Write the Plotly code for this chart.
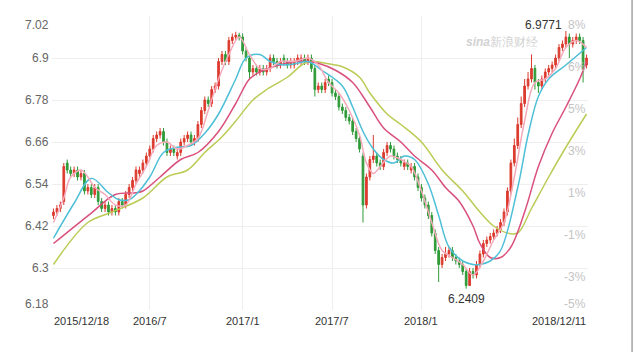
import pandas as pd
import plotly.graph_objects as go

# ---------------- data (weekly candles) ----------------
opens = [6.45, 6.46, 6.47, 6.49, 6.60, 6.58, 6.57, 6.58, 6.56, 6.57,
         6.52, 6.53, 6.51, 6.53, 6.49, 6.47, 6.48, 6.46, 6.47, 6.46,
         6.49, 6.48, 6.51, 6.53, 6.55, 6.57, 6.58, 6.60, 6.62, 6.64,
         6.67, 6.68, 6.69, 6.66, 6.63, 6.64, 6.62, 6.63, 6.66, 6.67,
         6.68, 6.66, 6.67, 6.71, 6.75, 6.78, 6.77, 6.81, 6.82, 6.89,
         6.91, 6.89, 6.95, 6.96, 6.965, 6.96, 6.92, 6.90, 6.86, 6.87,
         6.86, 6.87, 6.86, 6.87, 6.90, 6.89, 6.88, 6.90, 6.89, 6.88,
         6.88, 6.89, 6.89, 6.90, 6.89, 6.90, 6.87, 6.81, 6.82, 6.81,
         6.84, 6.83, 6.80, 6.79, 6.76, 6.75, 6.73, 6.72, 6.69, 6.67,
         6.62, 6.48, 6.56, 6.61, 6.62, 6.60, 6.59, 6.63, 6.65, 6.64,
         6.62, 6.61, 6.59, 6.60, 6.58, 6.59, 6.56, 6.53, 6.50, 6.48,
         6.45, 6.40, 6.35, 6.31, 6.33, 6.34, 6.35, 6.33, 6.32, 6.31,
         6.29, 6.25, 6.29, 6.28, 6.31, 6.34, 6.37, 6.38, 6.39, 6.40,
         6.41, 6.43, 6.46, 6.52, 6.60, 6.65, 6.71, 6.77, 6.82, 6.84,
         6.87, 6.83, 6.82, 6.84, 6.86, 6.87, 6.88, 6.90, 6.93, 6.94,
         6.96, 6.94, 6.95, 6.96, 6.95, 6.88]
highs = [6.47, 6.48, 6.49, 6.60, 6.61, 6.59, 6.59, 6.59, 6.58, 6.58,
         6.54, 6.54, 6.54, 6.54, 6.50, 6.49, 6.49, 6.48, 6.48, 6.50,
         6.50, 6.52, 6.54, 6.56, 6.59, 6.59, 6.61, 6.63, 6.65, 6.68,
         6.69, 6.70, 6.70, 6.67, 6.65, 6.65, 6.64, 6.67, 6.68, 6.69,
         6.69, 6.68, 6.72, 6.76, 6.79, 6.79, 6.82, 6.83, 6.90, 6.92,
         6.92, 6.96, 6.97, 6.975, 6.972, 6.97, 6.93, 6.91, 6.88, 6.88,
         6.88, 6.88, 6.88, 6.91, 6.91, 6.90, 6.90, 6.91, 6.90, 6.90,
         6.90, 6.91, 6.91, 6.91, 6.91, 6.91, 6.88, 6.83, 6.83, 6.84,
         6.85, 6.84, 6.81, 6.80, 6.77, 6.76, 6.74, 6.73, 6.70, 6.68,
         6.63, 6.57, 6.62, 6.68, 6.63, 6.61, 6.64, 6.66, 6.66, 6.65,
         6.63, 6.62, 6.61, 6.61, 6.60, 6.60, 6.57, 6.54, 6.51, 6.49,
         6.46, 6.41, 6.36, 6.34, 6.36, 6.36, 6.36, 6.34, 6.33, 6.32,
         6.30, 6.30, 6.30, 6.32, 6.35, 6.38, 6.39, 6.40, 6.41, 6.42,
         6.44, 6.47, 6.53, 6.61, 6.67, 6.73, 6.79, 6.84, 6.86, 6.91,
         6.88, 6.84, 6.85, 6.87, 6.88, 6.89, 6.91, 6.94, 6.95, 6.9771,
         6.97, 6.96, 6.97, 6.97, 6.96, 6.91]
lows = [6.44, 6.45, 6.46, 6.48, 6.57, 6.56, 6.56, 6.55, 6.55, 6.51,
        6.51, 6.50, 6.50, 6.48, 6.46, 6.46, 6.45, 6.45, 6.45, 6.45,
        6.47, 6.47, 6.50, 6.52, 6.54, 6.56, 6.57, 6.59, 6.61, 6.63,
        6.66, 6.67, 6.65, 6.62, 6.62, 6.62, 6.61, 6.62, 6.65, 6.66,
        6.65, 6.65, 6.66, 6.70, 6.74, 6.76, 6.76, 6.80, 6.81, 6.88,
        6.88, 6.88, 6.94, 6.95, 6.95, 6.91, 6.89, 6.84, 6.85, 6.85,
        6.85, 6.85, 6.85, 6.86, 6.88, 6.87, 6.87, 6.88, 6.87, 6.87,
        6.87, 6.88, 6.88, 6.88, 6.88, 6.86, 6.79, 6.80, 6.80, 6.80,
        6.82, 6.79, 6.78, 6.75, 6.74, 6.72, 6.71, 6.68, 6.66, 6.63,
        6.43, 6.47, 6.55, 6.60, 6.59, 6.58, 6.58, 6.62, 6.63, 6.61,
        6.60, 6.59, 6.58, 6.58, 6.57, 6.55, 6.52, 6.49, 6.47, 6.44,
        6.39, 6.34, 6.26, 6.30, 6.32, 6.33, 6.32, 6.31, 6.30, 6.28,
        6.2409, 6.25, 6.27, 6.27, 6.30, 6.33, 6.36, 6.37, 6.38, 6.39,
        6.40, 6.42, 6.45, 6.51, 6.59, 6.64, 6.70, 6.76, 6.81, 6.83,
        6.81, 6.80, 6.81, 6.83, 6.85, 6.86, 6.87, 6.89, 6.92, 6.93,
        6.90, 6.93, 6.94, 6.94, 6.83, 6.87]
closes = [6.46, 6.47, 6.48, 6.59, 6.58, 6.57, 6.58, 6.56, 6.57, 6.52,
          6.53, 6.51, 6.53, 6.49, 6.47, 6.48, 6.46, 6.47, 6.46, 6.49,
          6.48, 6.51, 6.53, 6.55, 6.58, 6.58, 6.60, 6.62, 6.64, 6.67,
          6.68, 6.69, 6.66, 6.63, 6.64, 6.63, 6.63, 6.66, 6.67, 6.68,
          6.66, 6.67, 6.71, 6.75, 6.78, 6.77, 6.81, 6.82, 6.89, 6.91,
          6.89, 6.95, 6.96, 6.965, 6.96, 6.92, 6.90, 6.86, 6.87, 6.86,
          6.87, 6.86, 6.87, 6.90, 6.89, 6.88, 6.89, 6.89, 6.88, 6.89,
          6.89, 6.90, 6.90, 6.89, 6.90, 6.87, 6.81, 6.82, 6.81, 6.83,
          6.83, 6.80, 6.79, 6.76, 6.75, 6.73, 6.72, 6.69, 6.67, 6.64,
          6.48, 6.56, 6.61, 6.62, 6.60, 6.59, 6.63, 6.65, 6.64, 6.62,
          6.61, 6.60, 6.60, 6.59, 6.59, 6.56, 6.53, 6.50, 6.48, 6.45,
          6.40, 6.35, 6.31, 6.33, 6.34, 6.35, 6.33, 6.32, 6.31, 6.29,
          6.25, 6.29, 6.28, 6.31, 6.34, 6.37, 6.38, 6.39, 6.40, 6.41,
          6.43, 6.46, 6.52, 6.60, 6.65, 6.71, 6.77, 6.82, 6.84, 6.87,
          6.83, 6.82, 6.84, 6.86, 6.87, 6.88, 6.90, 6.93, 6.94, 6.96,
          6.94, 6.95, 6.96, 6.95, 6.87, 6.90]

# moving-average lines, read at selected weeks (week index, value)
ma5_idx = [0, 3, 5, 8, 10, 12, 15, 18, 21, 24, 27, 30, 33, 36, 39, 42, 45, 48, 51,
           54, 57, 60, 63, 66, 70, 74, 77, 80, 83, 86, 89, 91, 93, 95, 98, 101, 104,
           107, 110, 113, 116, 119, 122, 125, 128, 131, 134, 137, 140, 143, 146, 149,
           152, 155]
ma5_val = [6.43, 6.50, 6.56, 6.58, 6.56, 6.53, 6.51, 6.48, 6.48, 6.54, 6.59, 6.65,
           6.66, 6.64, 6.65, 6.67, 6.75, 6.84, 6.91, 6.96, 6.91, 6.87, 6.87, 6.89,
           6.89, 6.90, 6.88, 6.83, 6.80, 6.75, 6.68, 6.60, 6.57, 6.59, 6.62, 6.61,
           6.59, 6.52, 6.43, 6.35, 6.33, 6.31, 6.28, 6.32, 6.38, 6.43, 6.56, 6.72,
           6.83, 6.84, 6.87, 6.93, 6.95, 6.93]
ma10_idx = [0, 6, 11, 16, 19, 22, 24, 28, 32, 36, 40, 44, 48, 53, 56, 60, 63, 67,
            71, 74, 78, 84, 87, 90, 93, 96, 99, 102, 105, 109, 112, 115, 119, 122,
            124, 127, 130, 135, 138, 141, 144, 149, 155]
ma10_val = [6.385, 6.485, 6.556, 6.515, 6.495, 6.495, 6.51, 6.56, 6.63, 6.645,
            6.65, 6.685, 6.74, 6.84, 6.90, 6.91, 6.89, 6.88, 6.885, 6.89, 6.865,
            6.82, 6.76, 6.69, 6.64, 6.61, 6.60, 6.62, 6.61, 6.54, 6.45, 6.36, 6.32,
            6.31, 6.31, 6.32, 6.35, 6.53, 6.68, 6.79, 6.84, 6.88, 6.93]
ma20_idx = [0, 11, 18, 24, 26, 31, 37, 42, 48, 53, 57, 60, 64, 70, 74, 77, 82, 87,
            92, 96, 101, 105, 110, 114, 118, 122, 124, 127, 130, 133, 137, 141, 145,
            149, 153, 155]
ma20_val = [6.37, 6.457, 6.51, 6.515, 6.52, 6.56, 6.61, 6.63, 6.69, 6.77, 6.84,
            6.86, 6.875, 6.89, 6.89, 6.885, 6.865, 6.83, 6.76, 6.70, 6.66, 6.62,
            6.58, 6.53, 6.49, 6.42, 6.37, 6.33, 6.33, 6.36, 6.46, 6.59, 6.685, 6.76,
            6.84, 6.89]
ma60_idx = [0, 10, 17, 26, 33, 39, 44, 49, 53, 58, 62, 68, 73, 76, 79, 84, 89, 92,
            97, 101, 107, 113, 119, 124, 128, 132, 135, 139, 144, 149, 155]
ma60_val = [6.31, 6.43, 6.46, 6.50, 6.56, 6.58, 6.63, 6.675, 6.72, 6.78, 6.81,
            6.845, 6.885, 6.89, 6.885, 6.875, 6.845, 6.80, 6.74, 6.71, 6.66, 6.58,
            6.52, 6.46, 6.42, 6.40, 6.40, 6.47, 6.56, 6.645, 6.74]

y_ticks = [6.18, 6.30, 6.42, 6.54, 6.66, 6.78, 6.90, 7.02]
y_text = ["6.18", "6.3", "6.42", "6.54", "6.66", "6.78", "6.9", "7.02"]
pct_text = ["-5%", "-3%", "-1%", "1%", "3%", "5%", "6%", "8%"]
x_tick_dates = ["2015-12-18", "2016-07-01", "2017-01-06", "2017-07-07", "2018-01-05", "2018-12-07"]
x_tick_text = ["2015/12/18", "2016/7", "2017/1", "2017/7", "2018/1", "2018/12/11"]
max_label, min_label = "6.9771", "6.2409"

# ---------------- figure ----------------
dates = pd.date_range("2015-12-18", periods=len(closes), freq="7D")

RED, GREEN = "#dc3b2e", "#2f9b38"
fig = go.Figure()
fig.add_trace(go.Candlestick(
    x=dates, open=opens, high=highs, low=lows, close=closes,
    increasing=dict(line=dict(color=RED, width=1), fillcolor=RED),
    decreasing=dict(line=dict(color=GREEN, width=1), fillcolor=GREEN),
    whiskerwidth=0, showlegend=False, hoverinfo="skip"))

for idx, val, col in [(ma60_idx, ma60_val, "#bccb55"),
                      (ma20_idx, ma20_val, "#d9507c"),
                      (ma10_idx, ma10_val, "#4dbfd6"),
                      (ma5_idx, ma5_val, "#f5aabb")]:
    fig.add_trace(go.Scatter(x=dates[idx], y=val, mode="lines",
                             line=dict(color=col, width=1.5, shape="spline", smoothing=1.0),
                             showlegend=False, hoverinfo="skip"))

ann = []
# left y labels
for v, t in zip(y_ticks, y_text):
    shift = 0
    if v == y_ticks[-1]:
        shift = -9
    elif v == y_ticks[0]:
        shift = 6
    ann.append(dict(xref="paper", yref="y", x=0, y=v, text=t, showarrow=False,
                    xanchor="right", yanchor="middle", xshift=-1, yshift=shift,
                    font=dict(size=12, color="#666666")))
# right percent labels
for v, t in zip(y_ticks, pct_text):
    shift = 6 if v == y_ticks[0] else -9
    ann.append(dict(xref="paper", yref="y", x=1, y=v, text=t, showarrow=False,
                    xanchor="right", yanchor="middle", yshift=shift,
                    font=dict(size=12, color="#c4c4c4")))
# x labels
for i, (d, t) in enumerate(zip(x_tick_dates, x_tick_text)):
    if i == 0:
        a = dict(xref="paper", x=0, xanchor="left")
    elif i == len(x_tick_dates) - 1:
        a = dict(xref="paper", x=1, xanchor="right")
    else:
        a = dict(xref="x", x=d, xanchor="center")
    a.update(yref="paper", y=0, yanchor="top", yshift=-3, text=t, showarrow=False,
             font=dict(size=11, color="#333333"))
    ann.append(a)
# max / min labels
imax = highs.index(max(highs))
imin = lows.index(min(lows))
ann.append(dict(x=dates[imax], y=max(highs), text=max_label, showarrow=False,
                xanchor="right", yanchor="middle", xshift=-2, yshift=6,
                font=dict(size=12, color="#333333")))
ann.append(dict(x=dates[imin], y=min(lows), text=min_label, showarrow=False,
                xanchor="center", yanchor="top", yshift=-1,
                font=dict(size=12, color="#333333")))
# watermark
ann.append(dict(xref="paper", yref="paper", x=0.84, y=0.91, text="<b><i>sina</i></b>新浪财经",
                showarrow=False, xanchor="center", yanchor="middle",
                font=dict(size=12, color="#d2d2d2")))

fig.update_layout(
    width=636, height=352,
    margin=dict(l=52, r=48, t=16, b=42),
    paper_bgcolor="white", plot_bgcolor="white",
    font=dict(family="Liberation Sans, Arial, sans-serif"),
    annotations=ann,
    xaxis=dict(type="date", range=["2015-12-15", "2018-12-10"],
               tickvals=x_tick_dates[1:-1], showticklabels=False,
               showgrid=True, gridcolor="#eeeeee", gridwidth=1,
               zeroline=False, showline=False, ticks="",
               rangeslider=dict(visible=False), fixedrange=True),
    yaxis=dict(range=[6.18, 7.02], tickvals=y_ticks, showticklabels=False,
               showgrid=True, gridcolor="#eeeeee", gridwidth=1,
               zeroline=False, showline=False, ticks="", fixedrange=True),
    shapes=[dict(type="line", xref="paper", yref="paper", x0=1.0822, x1=1.0822,
                 y0=-0.2, y1=1.06, line=dict(color="#777777", width=1))],
)

fig.write_html("out.html")
